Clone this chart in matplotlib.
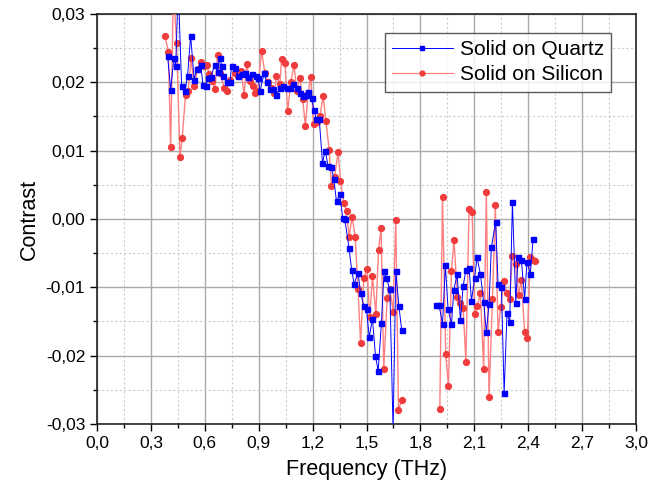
import numpy as np
import matplotlib
matplotlib.use("Agg")
import matplotlib.pyplot as plt
from matplotlib.ticker import MultipleLocator, FuncFormatter

plt.rcParams['font.family'] = ['Liberation Sans', 'DejaVu Sans']

# Solid on Quartz (blue), two frequency windows
quartz_f1 = [0.393, 0.410, 0.428, 0.438, 0.452, 0.471, 0.489, 0.504, 0.521, 0.541,
             0.554, 0.577, 0.590, 0.605, 0.619, 0.634, 0.656, 0.671, 0.684, 0.694,
             0.703, 0.721, 0.740, 0.749, 0.768, 0.786, 0.805, 0.823, 0.842, 0.860,
             0.883, 0.897, 0.907, 0.930, 0.944, 0.962, 0.981, 0.999, 1.018, 1.036,
             1.055, 1.073, 1.092, 1.111, 1.129, 1.147, 1.161, 1.175, 1.194, 1.207,
             1.220, 1.237, 1.255, 1.270, 1.286, 1.305, 1.318, 1.333, 1.352, 1.367,
             1.379, 1.403, 1.417, 1.431, 1.453, 1.467, 1.485, 1.500, 1.515, 1.533,
             1.550, 1.565, 1.583, 1.598, 1.611, 1.630, 1.648, 1.663, 1.680, 1.696]
quartz_c1 = [0.0239, 0.0189, 0.0236, 0.0224, 0.0340, 0.0195, 0.0187, 0.0209, 0.0268, 0.0204,
             0.0219, 0.0226, 0.0196, 0.0195, 0.0207, 0.0208, 0.0226, 0.0215, 0.0236, 0.0224,
             0.0209, 0.0200, 0.0200, 0.0224, 0.0221, 0.0209, 0.0212, 0.0214, 0.0208, 0.0212,
             0.0209, 0.0207, 0.0187, 0.0213, 0.0200, 0.0190, 0.0190, 0.0181, 0.0191, 0.0195,
             0.0192, 0.0192, 0.0197, 0.0192, 0.0185, 0.0180, 0.0182, 0.0186, 0.0177, 0.0160,
             0.0147, 0.0146, 0.0082, 0.0100, 0.0078, 0.0076, 0.0058, 0.0026, 0.0036, 0.0002,
             0.0000, -0.0043, -0.0074, -0.0095, -0.0079, -0.0108, -0.0127, -0.0132, -0.0173, -0.0146,
             -0.0200, -0.0223, -0.0152, -0.0076, -0.0087, -0.0103, -0.0310, -0.0076, -0.0127, -0.0163]
quartz_f2 = [1.889, 1.904, 1.923, 1.939, 1.954, 1.973, 1.986, 2.004, 2.023, 2.038,
             2.053, 2.071, 2.084, 2.102, 2.115, 2.134, 2.152, 2.167, 2.182, 2.195,
             2.219, 2.232, 2.251, 2.266, 2.282, 2.297, 2.312, 2.331, 2.343, 2.362,
             2.380, 2.393, 2.412, 2.427]
quartz_c2 = [-0.0126, -0.0126, -0.0154, -0.0068, -0.0132, -0.0153, -0.0104, -0.0081, -0.0148, -0.0098,
             -0.0075, -0.0071, -0.0120, -0.0086, -0.0056, -0.0081, -0.0121, -0.0166, -0.0124, -0.0041,
             -0.0004, -0.0095, -0.0100, -0.0255, -0.0137, -0.0151, 0.0025, -0.0123, -0.0056, -0.0060,
             -0.0117, -0.0063, -0.0080, -0.0030]

# Solid on Silicon (red)
silicon_f1 = [0.378, 0.397, 0.410, 0.425, 0.443, 0.462, 0.474, 0.493, 0.508, 0.523,
              0.541, 0.560, 0.577, 0.597, 0.612, 0.623, 0.638, 0.656, 0.671, 0.684,
              0.708, 0.721, 0.740, 0.768, 0.782, 0.801, 0.819, 0.833, 0.851, 0.866,
              0.879, 0.894, 0.916, 0.934, 0.953, 0.968, 0.986, 0.999, 1.018, 1.027,
              1.046, 1.061, 1.079, 1.097, 1.111, 1.129, 1.145, 1.160, 1.175, 1.190,
              1.205, 1.222, 1.240, 1.259, 1.274, 1.292, 1.305, 1.322, 1.342, 1.355,
              1.374, 1.389, 1.403, 1.420, 1.437, 1.453, 1.467, 1.485, 1.503, 1.518,
              1.533, 1.552, 1.567, 1.581, 1.596, 1.615, 1.630, 1.648, 1.663, 1.678,
              1.695]
silicon_c1 = [0.0268, 0.0245, 0.0105, 0.0340, 0.0257, 0.0090, 0.0118, 0.0182, 0.0188, 0.0235,
              0.0195, 0.0219, 0.0230, 0.0224, 0.0226, 0.0212, 0.0202, 0.0190, 0.0240, 0.0214,
              0.0192, 0.0187, 0.0204, 0.0214, 0.0209, 0.0217, 0.0182, 0.0227, 0.0202, 0.0195,
              0.0185, 0.0188, 0.0246, 0.0214, 0.0200, 0.0192, 0.0185, 0.0209, 0.0197, 0.0234,
              0.0229, 0.0158, 0.0200, 0.0226, 0.0187, 0.0207, 0.0175, 0.0136, 0.0185, 0.0208,
              0.0139, 0.0142, 0.0150, 0.0180, 0.0144, 0.0101, 0.0048, 0.0061, 0.0098, 0.0056,
              0.0023, 0.0012, -0.0026, 0.0003, -0.0026, -0.0103, -0.0182, -0.0086, -0.0073, -0.0144,
              -0.0084, -0.0139, -0.0045, -0.0013, -0.0219, -0.0115, -0.0102, -0.0136, -0.0001, -0.0280,
              -0.0265]
silicon_f2 = [1.908, 1.923, 1.941, 1.956, 1.973, 1.987, 2.006, 2.019, 2.038, 2.053,
              2.071, 2.088, 2.102, 2.117, 2.134, 2.152, 2.167, 2.182, 2.201, 2.217,
              2.232, 2.247, 2.264, 2.282, 2.297, 2.312, 2.331, 2.346, 2.362, 2.380,
              2.395, 2.412, 2.427, 2.435]
silicon_c2 = [-0.0278, 0.0032, -0.0198, -0.0244, -0.0076, -0.0031, -0.0114, -0.0123, -0.0131, -0.0209,
              0.0015, 0.0010, -0.0139, -0.0127, -0.0109, -0.0219, 0.0040, -0.0260, -0.0117, 0.0020,
              -0.0166, -0.0129, -0.0091, -0.0108, -0.0117, -0.0054, -0.0066, -0.0111, -0.0090, -0.0165,
              -0.0174, -0.0056, -0.0060, -0.0062]

BLUE = "#0000ff"
RED = "#f03c3c"
RED_LINE = "#ff8080"


def comma(v, pos, nd):
    return f"{v:.{nd}f}".replace(".", ",")


fig = plt.figure(figsize=(6.63, 4.91), dpi=100)
ax = fig.add_axes([0.1463, 0.1365, 0.813, 0.835])

# silicon first so quartz sits on top
for f, c in ((silicon_f1, silicon_c1), (silicon_f2, silicon_c2)):
    ax.plot(f, c, color=RED_LINE, lw=1.0, zorder=3)
    ax.plot(f, c, ls="none", marker="o", ms=4.2, color=RED, zorder=4)
for f, c in ((quartz_f1, quartz_c1), (quartz_f2, quartz_c2)):
    ax.plot(f, c, color=BLUE, lw=0.7, marker="s", ms=3.6, mfc=BLUE, mec=BLUE, zorder=5)

# legend proxies
ax.plot([], [], color=BLUE, lw=0.7, marker="s", ms=3.5, label="Solid on Quartz")
ax.plot([], [], color=RED_LINE, lw=0.9, marker="o", ms=3.5, mfc=RED, mec=RED,
        label="Solid on Silicon")
h, l = ax.get_legend_handles_labels()
leg = ax.legend(h[-2:], l[-2:], loc="upper right", bbox_to_anchor=(0.954, 0.954),
                borderaxespad=0, fontsize=15, frameon=True, fancybox=False,
                borderpad=0.35, handlelength=2.9, handletextpad=0.35,
                labelspacing=0.3)
leg.get_frame().set_edgecolor("#333333")
leg.get_frame().set_linewidth(1.0)

ax.set_xlim(0, 3.0)
ax.set_ylim(-0.03, 0.03)
ax.xaxis.set_major_locator(MultipleLocator(0.3))
ax.xaxis.set_minor_locator(MultipleLocator(0.15))
ax.yaxis.set_major_locator(MultipleLocator(0.01))
ax.yaxis.set_minor_locator(MultipleLocator(0.005))
ax.xaxis.set_major_formatter(FuncFormatter(lambda v, p: comma(v, p, 1)))
ax.yaxis.set_major_formatter(FuncFormatter(lambda v, p: comma(v, p, 2)))

ax.grid(which="major", color="#aaaaaa", lw=1.0, ls="-", zorder=0)
ax.grid(which="minor", color="#cccccc", lw=0.8, ls=(0, (2, 2)), zorder=0)
ax.set_axisbelow(True)

ax.tick_params(which="major", direction="out", length=5, width=1.0, labelsize=12.5,
               top=False, right=False)
ax.tick_params(which="minor", direction="out", length=3, width=1.0,
               top=False, right=False)
for s in ax.spines.values():
    s.set_linewidth(1.2)
    s.set_color("#222222")

ax.set_xlabel("Frequency (THz)", fontsize=15.5, labelpad=6)
ax.set_ylabel("Contrast", fontsize=15.5, labelpad=4)

fig.savefig("out.png", dpi=100)
